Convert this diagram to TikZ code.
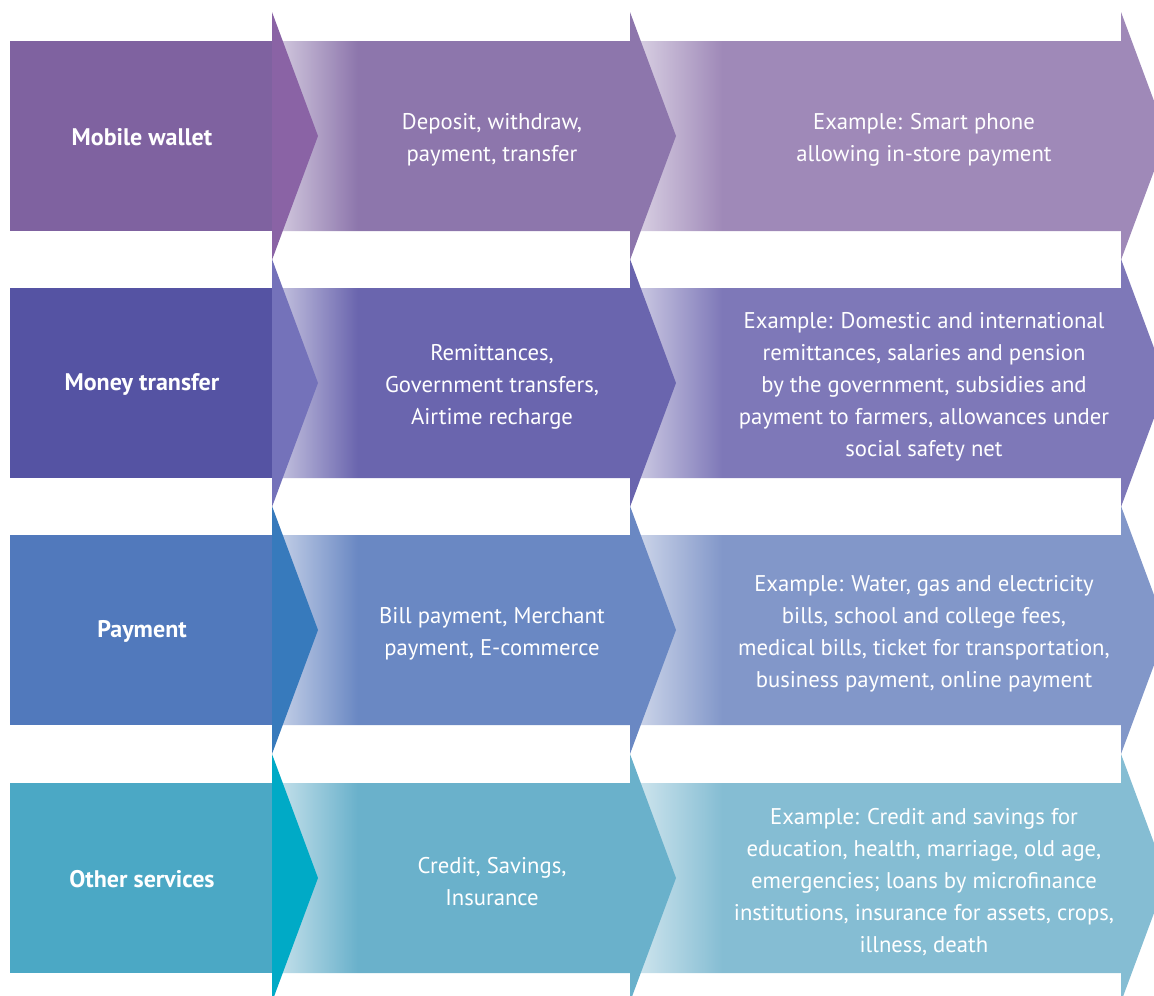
\documentclass[tikz,border=0pt]{standalone}
\usepackage{fontspec}
\setmainfont{PT Sans}
\definecolor{rectA}{HTML}{7F62A0}\definecolor{triA}{HTML}{8A63A5}\definecolor{segAa}{HTML}{8D76AC}\definecolor{segAb}{HTML}{9F89B8}
\definecolor{rectB}{HTML}{5553A3}\definecolor{triB}{HTML}{7472BA}\definecolor{segBa}{HTML}{6A65AE}\definecolor{segBb}{HTML}{7E78B8}
\definecolor{rectC}{HTML}{5179BC}\definecolor{triC}{HTML}{377ABC}\definecolor{segCa}{HTML}{6A88C3}\definecolor{segCb}{HTML}{8297C9}
\definecolor{rectD}{HTML}{4BA8C5}\definecolor{triD}{HTML}{00AAC6}\definecolor{segDa}{HTML}{6AB1CB}\definecolor{segDb}{HTML}{85BDD3}
\colorlet{fromc}{white}\colorlet{toc}{black}
\pgfdeclarehorizontalshading[fromc,toc]{fadeone}{100bp}{color(0bp)=(fromc); color(25bp)=(fromc); color(35.6bp)=(toc); color(100bp)=(toc)}
\pgfdeclarehorizontalshading[fromc,toc]{fadetwo}{100bp}{color(0bp)=(fromc); color(25bp)=(fromc); color(33.6bp)=(toc); color(100bp)=(toc)}
\tikzset{
  labeltext/.style={text=white,font=\fontsize{24}{32}\selectfont\bfseries,align=center},
  bodytext/.style={text=white,font=\fontsize{22.7}{32}\selectfont,align=center},
}
\begin{document}
\begin{tikzpicture}[x=1pt,y=-1pt]
\useasboundingbox (0,0) rectangle (1154,996);
\clip (0,0) rectangle (1154,996);
\foreach \L/\yc in {A/136,B/383,C/630,D/878}{
  % second segment
  \colorlet{fromc}{seg\L b!35!white}\colorlet{toc}{seg\L b}
  \shade[shading=fadetwo] (630,\yc-95) -- (1121,\yc-95) -- (1121,\yc-124) -- (1167,\yc) -- (1121,\yc+124) -- (1121,\yc+95) -- (630,\yc+95) -- cycle;
  % first segment
  \colorlet{fromc}{seg\L a!35!white}\colorlet{toc}{seg\L a}
  \shade[shading=fadeone] (272,\yc-95) -- (630,\yc-95) -- (630,\yc-124) -- (676,\yc) -- (630,\yc+124) -- (630,\yc+95) -- (272,\yc+95) -- cycle;
  % left block
  \fill[rect\L] (10,\yc-95) rectangle (272,\yc+95);
  \fill[tri\L] (272,\yc-124) -- (318,\yc) -- (272,\yc+124) -- cycle;
}
\node[labeltext] (l1) at (142,137) {Mobile wallet};
\node[labeltext] (l2) at (142,384) {Money transfer};
\node[labeltext] (l3) at (142,631) {Payment};
\node[labeltext] (l4) at (142,879) {Other services};
\node[bodytext] (m1) at (492,140) {Deposit, withdraw,\\payment, transfer};
\node[bodytext] (m2) at (492,387) {Remittances,\\Government transfers,\\Airtime recharge};
\node[bodytext] (m3) at (492,634) {Bill payment, Merchant\\payment, E-commerce};
\node[bodytext] (m4) at (492,882) {Credit, Savings,\\Insurance};
\node[bodytext] (r1) at (924,140) {Example: Smart phone\\allowing in-store payment};
\node[bodytext] (r2) at (924,387) {Example: Domestic and international\\remittances, salaries and pension\\by the government, subsidies and\\payment to farmers, allowances under\\social safety net};
\node[bodytext] (r3) at (924,634) {Example: Water, gas and electricity\\bills, school and college fees,\\medical bills, ticket for transportation,\\business payment, online payment};
\node[bodytext] (r4) at (924,882) {Example: Credit and savings for\\education, health, marriage, old age,\\emergencies; loans by microfinance\\institutions, insurance for assets, crops,\\illness, death};
\end{tikzpicture}
\end{document}
